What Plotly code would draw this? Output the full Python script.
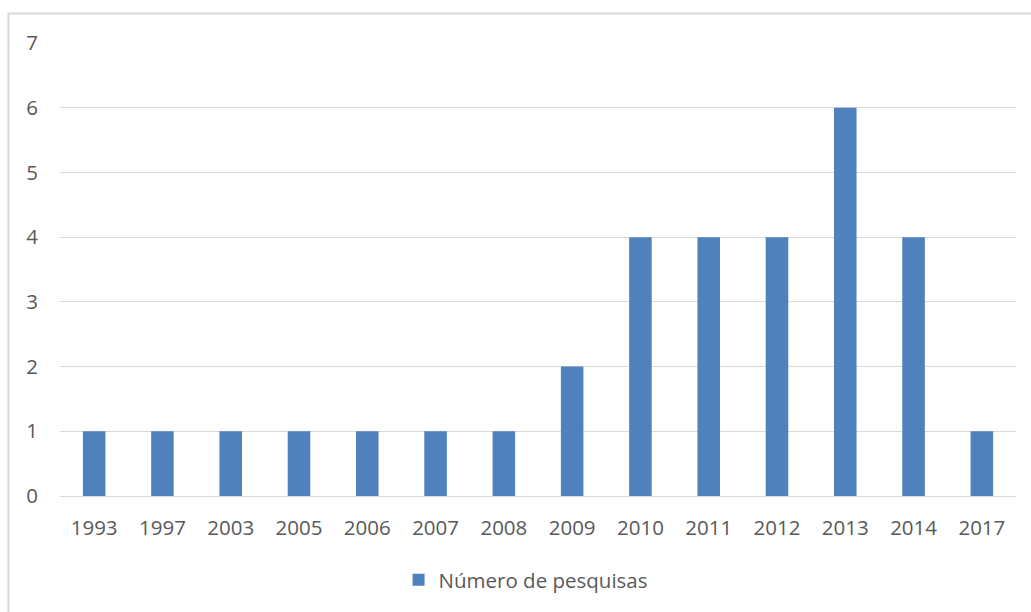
import plotly.graph_objects as go

# Number of studies per publication year
anos = ["1993", "1997", "2003", "2005", "2006", "2007", "2008",
        "2009", "2010", "2011", "2012", "2013", "2014", "2017"]
numero_pesquisas = [1, 1, 1, 1, 1, 1, 1, 2, 4, 4, 4, 6, 4, 1]

fonte = dict(family="Open Sans, Lato, sans-serif", size=20.5, color="#595959")

fig = go.Figure(
    go.Bar(
        x=anos,
        y=numero_pesquisas,
        name="Número de pesquisas",
        marker=dict(color="#4f81bd", line=dict(width=0)),
        showlegend=True,
    )
)

fig.update_layout(
    width=1031,
    height=612,
    margin=dict(l=60, r=15, t=43, b=116),
    paper_bgcolor="white",
    plot_bgcolor="white",
    font=fonte,
    bargap=0.67,
    showlegend=True,
    legend=dict(
        orientation="h",
        x=0.487,
        xanchor="center",
        y=-0.185,
        yanchor="middle",
        font=fonte,
        itemwidth=30,
        itemsizing="constant",
    ),
    xaxis=dict(
        type="category",
        showgrid=False,
        showline=True,
        linecolor="#d9d9d9",
        linewidth=1,
        ticks="",
        ticklabelstandoff=13,
        tickfont=fonte,
    ),
    yaxis=dict(
        range=[0, 7],
        dtick=1,
        showgrid=True,
        gridcolor="#d9d9d9",
        gridwidth=1,
        zeroline=False,
        showline=False,
        ticks="",
        ticklabelstandoff=21,
        tickfont=fonte,
    ),
    shapes=[
        # chart-area frame
        dict(
            type="rect",
            xref="paper",
            yref="paper",
            x0=-0.0539,
            x1=1.06,
            y0=-0.35,
            y1=1.065,
            line=dict(color="#d9d9d9", width=2),
            fillcolor="rgba(0,0,0,0)",
            layer="below",
        )
    ],
)

fig.write_html("out.html")
